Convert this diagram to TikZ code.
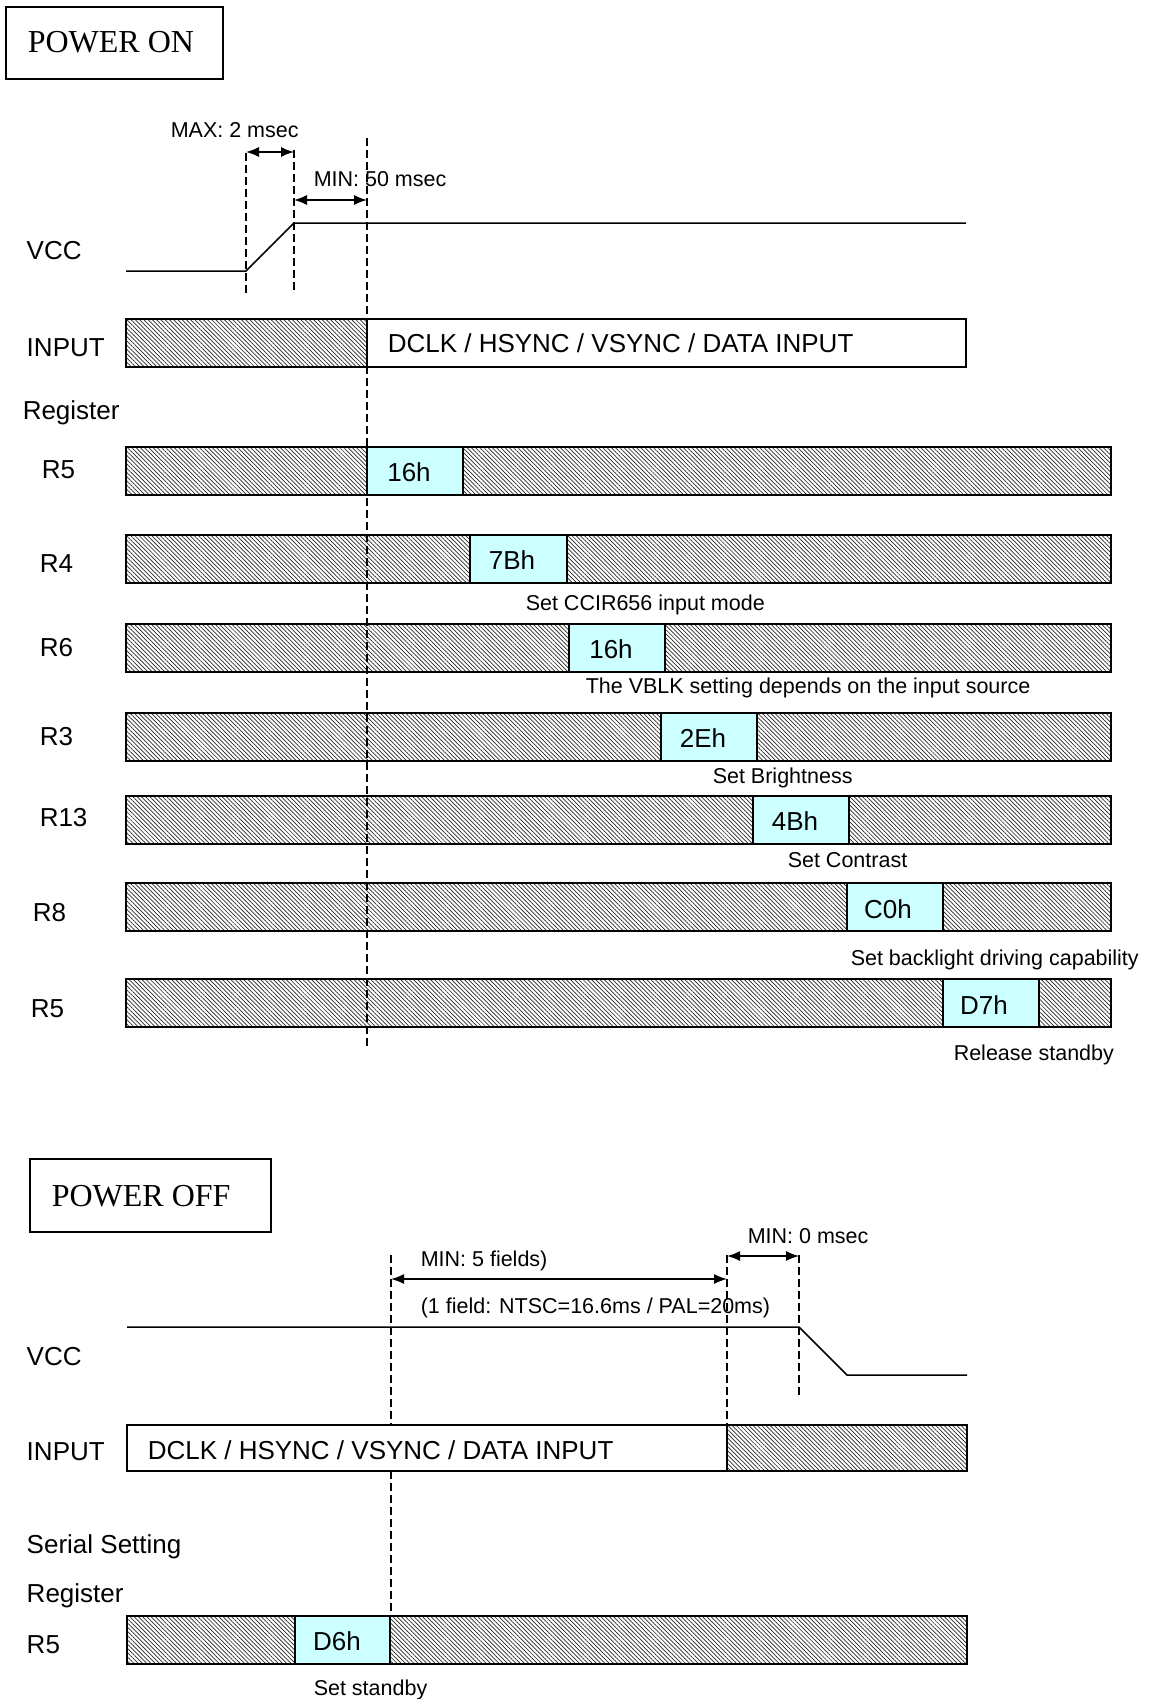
\documentclass[tikz,border=0pt]{standalone}
\usepackage{fontspec}
\setmainfont{Liberation Sans}
\newfontfamily\headfont{Liberation Serif}
\usetikzlibrary{arrows.meta,patterns.meta}
\definecolor{cellcyan}{RGB}{204,255,255}
\begin{document}
\begin{tikzpicture}[x=1pt,y=1pt,yscale=-1,line width=1.5pt,
  hatch/.style={draw=black,line width=1.6pt,pattern={Lines[angle=-45,distance=3pt,line width=0.7pt]},pattern color=black!85},
  cell/.style={draw=black,line width=1.6pt,fill=cellcyan},
  plain/.style={draw=black,line width=1.6pt,fill=white},
  guide/.style={dash pattern=on 8pt off 4pt,line width=1.5pt},
  dim/.style={{Latex[length=13pt,width=10pt]}-{Latex[length=13pt,width=10pt]},line width=1.5pt},
  head/.style={anchor=base west,inner sep=0pt,font=\headfont\fontsize{32}{36}\selectfont},
  lbl/.style={anchor=base west,inner sep=0pt,font=\fontsize{26}{30}\selectfont},
  celltxt/.style={inner sep=0pt,font=\fontsize{26}{30}\selectfont},
  note/.style={anchor=base west,inner sep=0pt,font=\fontsize{21.5}{25}\selectfont}]
\useasboundingbox (0,0) rectangle (1156,1699);

%%%%%%%%%%%%%%%% POWER ON
%Shape: Rectangle
\draw [line width=1.3pt] (6,7) rectangle (223,79);
% Text Node
\node [head] (pon) at (27,53) {POWER ON};

% Text Node
\node [note] (tmax) at (170,138) {MAX: 2 msec};
% Text Node
\node [note] (tmin50) at (313,187) {MIN: 50 msec};

% VCC
\node [lbl] (vccon) at (26,259) {VCC};
\coordinate (von0) at (126,271);
\coordinate (von1) at (246,271);
\coordinate (von2) at (294,223);
\coordinate (von3) at (966,223);
\draw (von0) -- (von1) -- (von2) -- (von3);

% INPUT
\node [lbl] (inon) at (26,356) {INPUT};
\draw [hatch] (126,319) rectangle (367,367);
\draw [plain] (367,319) rectangle (966,367);
\node [lbl] (dataon) at (387,352) {DCLK / HSYNC / VSYNC / DATA INPUT};

% Register
\node [lbl] (regon) at (22,419) {Register};

%Shape: Rectangle  R5
\node [lbl] (r5a) at (41,478) {R5};
\draw [hatch] (126,447) rectangle (1111,495);
\draw [cell] (367,447) rectangle (463,495);
\node [celltxt] (c16a) at (409,472) {16h};

%Shape: Rectangle  R4
\node [lbl] (r4) at (39,572) {R4};
\draw [hatch] (126,535) rectangle (1111,583);
\draw [cell] (470,535) rectangle (567,583);
\node [celltxt] (c7b) at (512,560) {7Bh};
\node [note] (nccir) at (525,610) {Set CCIR656 input mode};

%Shape: Rectangle  R6
\node [lbl] (r6) at (39,656) {R6};
\draw [hatch] (126,624) rectangle (1111,672);
\draw [cell] (569,624) rectangle (665,672);
\node [celltxt] (c16b) at (611,649) {16h};
\node [note] (nvblk) at (585,693) {The VBLK setting depends on the input source};

%Shape: Rectangle  R3
\node [lbl] (r3) at (39,745) {R3};
\draw [hatch] (126,713) rectangle (1111,761);
\draw [cell] (661,713) rectangle (757,761);
\node [celltxt] (c2e) at (703,738) {2Eh};
\node [note] (nbright) at (712,783) {Set Brightness};

%Shape: Rectangle  R13
\node [lbl] (r13) at (39,826) {R13};
\draw [hatch] (126,796) rectangle (1111,844);
\draw [cell] (753,796) rectangle (849,844);
\node [celltxt] (c4b) at (795,821) {4Bh};
\node [note] (ncontr) at (787,867) {Set Contrast};

%Shape: Rectangle  R8
\node [lbl] (r8) at (32,921) {R8};
\draw [hatch] (126,883) rectangle (1111,931);
\draw [cell] (847,883) rectangle (943,931);
\node [celltxt] (cc0) at (888,909) {C0h};
\node [note] (nback) at (850,965) {Set backlight driving capability};

%Shape: Rectangle  R5
\node [lbl] (r5b) at (30,1017) {R5};
\draw [hatch] (126,979) rectangle (1111,1027);
\draw [cell] (943,979) rectangle (1039,1027);
\node [celltxt] (cd7) at (984,1005) {D7h};
\node [note] (nrel) at (953,1060) {Release standby};

% guides and spans
\draw [guide] (246,153) -- (246,293);
\draw [guide] (294,150) -- (294,293);
\draw [guide] (367,138) -- (367,1049);
\coordinate (amax0) at (246,152);
\coordinate (amax1) at (294,152);
\coordinate (amin0) at (294,200);
\coordinate (amin1) at (367,200);
\draw [dim] (amax0) -- (amax1);
\draw [dim] (amin0) -- (amin1);

%%%%%%%%%%%%%%%% POWER OFF
%Shape: Rectangle
\draw [line width=1.3pt] (30,1159) rectangle (271,1232);
% Text Node
\node [head] (poff) at (51,1206) {POWER OFF};

% Text Node
\node [note] (tmin0) at (747,1243) {MIN: 0 msec};
% Text Node
\node [note] (tmin5) at (420,1266) {MIN: 5 fields)};
% Text Node
\node [note] (tfield) at (420,1313) {(1 field: NTSC=16.6ms / PAL=20ms)};

% guides (behind the bars)
\draw [guide] (391,1255) -- (391,1616);
\draw [guide] (727,1255) -- (727,1425);
\draw [guide] (799,1255) -- (799,1398);

% VCC
\node [lbl] (vccoff) at (26,1365) {VCC};
\coordinate (voff0) at (127,1327);
\coordinate (voff1) at (799,1327);
\coordinate (voff2) at (847,1375);
\coordinate (voff3) at (967,1375);
\draw (voff0) -- (voff1) -- (voff2) -- (voff3);

% INPUT
\node [lbl] (inoff) at (26,1460) {INPUT};
\draw [plain] (127,1425) rectangle (727,1471);
\draw [hatch] (727,1425) rectangle (967,1471);
\node [lbl] (dataoff) at (147,1459) {DCLK / HSYNC / VSYNC / DATA INPUT};

% Serial Setting Register
\node [lbl] (serial) at (26,1553) {Serial Setting};
\node [lbl] (regoff) at (26,1602) {Register};

%Shape: Rectangle  R5
\node [lbl] (r5c) at (26,1653) {R5};
\draw [hatch] (127,1616) rectangle (967,1664);
\draw [cell] (295,1616) rectangle (390,1664);
\node [celltxt] (cd6) at (337,1641) {D6h};
\node [note] (nstby) at (313,1695) {Set standby};

% spans
\coordinate (af0) at (391,1279);
\coordinate (af1) at (727,1279);
\coordinate (az0) at (727,1256);
\coordinate (az1) at (799,1256);
\draw [dim] (af0) -- (af1);
\draw [dim] (az0) -- (az1);
\end{tikzpicture}
\end{document}
